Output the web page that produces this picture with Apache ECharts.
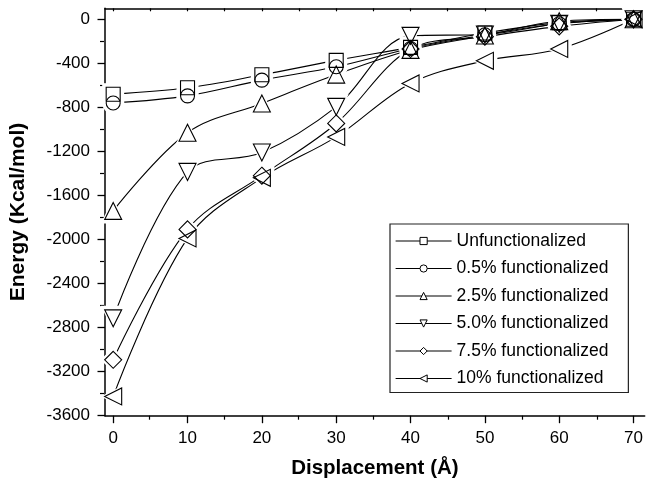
<!DOCTYPE html>
<html>
<head>
<meta charset="utf-8">
<script src="https://cdn.jsdelivr.net/npm/echarts@6/dist/echarts.min.js"></script>
<style>
html,body{margin:0;padding:0;background:#fff;}
#chart{width:646px;height:486px;}
</style>
</head>
<body>
<div id="chart"></div>
<script>
// ---- data ----
const displacement = [0, 10, 20, 30, 40, 50, 60, 70];
const seriesNames = ['Unfunctionalized', '0.5% functionalized', '2.5% functionalized',
  '5.0% functionalized', '7.5% functionalized', '10% functionalized'];
const unfunctionalized = [-680, -622, -504, -373, -255, -125, -30, 0];
const func05 = [-760, -695, -552, -431, -265, -140, -40, 0];
const func25 = [-1740, -1030, -764, -502, -278, -147, -17, 0];
const func50 = [-2716, -1386, -1210, -795, -150, -138, -40, 0];
const func75 = [-3092, -1908, -1420, -946, -270, -158, -64, 0];
const func10 = [-3425, -1990, -1440, -1068, -582, -377, -269, 0];
const xTickLabels = [0, 10, 20, 30, 40, 50, 60, 70];
const xMinorTicks = [5, 15, 25, 35, 45, 55, 65];
const xTopTicks = [0, 5, 10, 15, 20, 25, 30, 35, 40, 45, 50, 55, 60, 65, 70];
const yTickLabels = [0, -400, -800, -1200, -1600, -2000, -2400, -2800, -3200, -3600];
const yMinorTicks = [-200, -600, -1000, -1400, -1800, -2200, -2600, -3000, -3400];

const allValues = [unfunctionalized, func05, func25, func50, func75, func10];
const symbols = ['rect', 'circle', 'triangle', 'triangle', 'diamond', 'triangle'];
const rotations = [0, 0, 0, 180, 0, 90];
const sizes = [14, 14, 17, 17, 17, 17];

const FONT = '"Liberation Sans", Arial, Helvetica, sans-serif';
const gridRect = { left: 104, top: 8.3, width: 541.5, height: 407.4 };
const X_MIN = -1.1, X_MAX = 71.5, Y_MIN = -3600, Y_MAX = 100;

const series = [];
allValues.forEach((vals, i) => {
  const pts = displacement.map((x, j) => [x, vals[j]]);
  // connecting curve (carries legend)
  series.push({
    name: seriesNames[i], type: 'line', xAxisIndex: 0, yAxisIndex: 0,
    data: pts, smooth: 0.35, showSymbol: false,
    symbol: symbols[i], symbolRotate: rotations[i], symbolSize: sizes[i],
    lineStyle: { color: '#000', width: 1.1 },
    itemStyle: { color: '#fff', borderColor: '#000', borderWidth: 1 },
    z: 1, silent: true, animation: false
  });
});
allValues.forEach((vals, i) => {
  const pts = displacement.map((x, j) => [x, vals[j]]);
  // white halo that makes the gap between curve and marker
  series.push({
    name: 'halo' + i, type: 'scatter', xAxisIndex: 0, yAxisIndex: 0,
    data: pts, symbol: symbols[i], symbolRotate: rotations[i], symbolSize: sizes[i] + 8,
    itemStyle: { color: '#fff', borderWidth: 0, opacity: 1 },
    z: 2, silent: true, animation: false
  });
});
allValues.forEach((vals, i) => {
  const pts = displacement.map((x, j) => [x, vals[j]]);
  series.push({
    name: 'mark' + i, type: 'scatter', xAxisIndex: 0, yAxisIndex: 0,
    data: pts, symbol: symbols[i], symbolRotate: rotations[i], symbolSize: sizes[i],
    itemStyle: { color: 'rgba(0,0,0,0)', borderColor: '#000', borderWidth: 1.1, opacity: 1 },
    z: 3, silent: true, animation: false
  });
});

const axisLineStyle = { color: '#000', width: 1.5 };

const option = {
  backgroundColor: '#fff',
  animation: false,
  grid: [
    Object.assign({ containLabel: false }, gridRect),
    Object.assign({ containLabel: false }, gridRect)
  ],
  xAxis: [
    {
      type: 'value', gridIndex: 0, position: 'bottom', min: X_MIN, max: X_MAX,
      name: 'Displacement (Å)', nameLocation: 'middle', nameGap: 42,
      nameTextStyle: { fontFamily: FONT, fontSize: 20.5, fontWeight: 'bold', color: '#000' },
      axisLine: { show: true, onZero: false, lineStyle: axisLineStyle },
      axisTick: { show: true, inside: false, length: 7.5, customValues: xTickLabels, lineStyle: { color: '#000', width: 1.3 } },
      axisLabel: { show: true, customValues: xTickLabels, margin: 14, fontFamily: FONT, fontSize: 17, color: '#000',
        formatter: v => String(v) },
      splitLine: { show: false }
    },
    {
      type: 'value', gridIndex: 0, position: 'top', min: X_MIN, max: X_MAX,
      axisLine: { show: true, onZero: false, lineStyle: axisLineStyle },
      axisTick: { show: true, inside: true, length: 3, customValues: xTopTicks, lineStyle: { color: '#000', width: 1.2 } },
      axisLabel: { show: false },
      splitLine: { show: false }
    },
    {
      type: 'value', gridIndex: 1, position: 'bottom', min: X_MIN, max: X_MAX,
      axisLine: { show: false, onZero: false },
      axisTick: { show: true, inside: false, length: 4, customValues: xMinorTicks, lineStyle: { color: '#000', width: 1.2 } },
      axisLabel: { show: false },
      splitLine: { show: false }
    }
  ],
  yAxis: [
    {
      type: 'value', gridIndex: 0, position: 'left', min: Y_MIN, max: Y_MAX,
      name: 'Energy (Kcal/mol)', nameLocation: 'middle', nameGap: 76,
      nameTextStyle: { fontFamily: FONT, fontSize: 21, fontWeight: 'bold', color: '#000' },
      axisLine: { show: true, onZero: false, lineStyle: axisLineStyle },
      axisTick: { show: true, inside: false, length: 7.5, customValues: yTickLabels, lineStyle: { color: '#000', width: 1.3 } },
      axisLabel: { show: true, customValues: yTickLabels, margin: 15, fontFamily: FONT, fontSize: 17, color: '#000',
        formatter: v => String(v) },
      splitLine: { show: false }
    },
    {
      type: 'value', gridIndex: 1, position: 'left', min: Y_MIN, max: Y_MAX,
      axisLine: { show: false, onZero: false },
      axisTick: { show: true, inside: false, length: 4, customValues: yMinorTicks, lineStyle: { color: '#000', width: 1.2 } },
      axisLabel: { show: false },
      splitLine: { show: false }
    }
  ],
  legend: {
    data: seriesNames,
    orient: 'vertical',
    left: 390, top: 224,
    padding: [7, 20, 4, 5],
    borderColor: '#222', borderWidth: 1.2, backgroundColor: '#fff',
    itemWidth: 56, itemHeight: 9, itemGap: 7.5,
    selectedMode: false,
    textStyle: { fontFamily: FONT, fontSize: 17.5, color: '#000', lineHeight: 20 },
    lineStyle: { color: '#000', width: 1.2 },
    itemStyle: { color: '#fff', borderColor: '#000', borderWidth: 1 }
  },
  series: series
};

const chart = echarts.init(document.getElementById('chart'), null, { renderer: 'canvas' });
chart.setOption(option);
</script>
</body>
</html>
